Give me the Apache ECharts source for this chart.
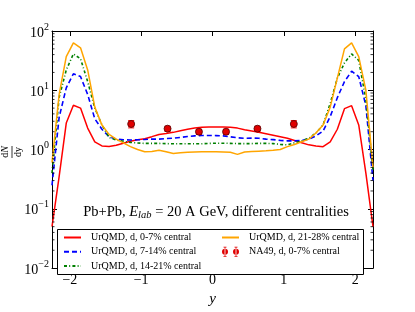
<!DOCTYPE html>
<html><head><meta charset="utf-8">
<script src="https://cdn.jsdelivr.net/npm/echarts@6/dist/echarts.min.js"></script>
<style>html,body{margin:0;padding:0;background:#fff}#c{width:415px;height:312px}</style>
</head><body><div id="c"></div>
<script>
// ---- data ----
const rapidity = [-2.25,-2.15,-2.05,-1.95,-1.85,-1.75,-1.65,-1.55,-1.45,-1.35,-1.25,-1.15,-1.05,-0.95,-0.85,-0.75,-0.65,-0.55,-0.45,-0.35,-0.25,-0.15,-0.05,
  0.05,0.15,0.25,0.35,0.45,0.55,0.65,0.75,0.85,0.95,1.05,1.15,1.25,1.35,1.45,1.55,1.65,1.75,1.85,1.95,2.05,2.15,2.25];
const central0to7 = [0.05,0.35,2.8,5.6,5.0,2.3,1.35,1.15,1.13,1.18,1.28,1.38,1.46,1.52,1.65,1.8,1.86,1.95,2.08,2.2,2.3,2.38,2.4,
  2.4,2.4,2.38,2.3,2.15,2.05,1.95,1.85,1.75,1.65,1.55,1.42,1.3,1.2,1.15,1.12,1.35,2.2,4.9,5.5,2.6,0.4,0.05];
const central7to14 = [0.25,3.5,11,19,17,8.5,3.3,2.2,1.65,1.5,1.46,1.45,1.46,1.48,1.5,1.5,1.53,1.56,1.6,1.66,1.7,1.73,1.73,
  1.72,1.7,1.64,1.58,1.55,1.56,1.55,1.5,1.47,1.43,1.4,1.4,1.42,1.5,1.7,2.05,3.6,7.5,14,21,17,5.5,0.3];
const central14to21 = [0.4,7.6,22,41,34,14,5,2.6,1.6,1.45,1.38,1.32,1.29,1.27,1.27,1.27,1.26,1.25,1.25,1.25,1.25,1.25,1.27,
  1.28,1.28,1.27,1.26,1.26,1.26,1.27,1.27,1.26,1.22,1.2,1.3,1.4,1.55,1.9,2.6,6,16,29,41,32,7,0.45];
const central21to28 = [0.6,8.5,37,63,52,22,5.2,2.6,1.8,1.5,1.3,1.12,1.0,0.92,0.93,0.97,0.92,0.86,0.88,0.9,0.91,0.92,0.92,
  0.92,0.91,0.9,0.83,0.91,0.93,0.94,0.95,0.97,1.0,1.12,1.22,1.35,1.5,1.9,2.6,5.2,16,50,63,37,10,0.5];
const na49Rapidity = [-1.14,-0.63,-0.19,0.19,0.63,1.14];
const na49Value = [2.7,2.25,2.0,2.0,2.25,2.7];
const na49Error = [0.38,0.22,0.2,0.2,0.22,0.38];
const seriesNames = ['UrQMD, d, 0-7% central','UrQMD, d, 7-14% central','UrQMD, d, 14-21% central','UrQMD, d, 21-28% central','NA49, d, 0-7% central'];
const xTickLabels = [-2,-1,0,1,2];
const yTickLabels = [0.01,0.1,1,10,100];

// ---- chart ----
const FONT = 'Liberation Serif';
const xMin = -2.25, xMax = 2.25, yMin = 0.01, yMax = 100;
const minorTicks = [];
for (let e = -2; e < 2; e++) for (let m = 2; m <= 9; m++) minorTicks.push(m * Math.pow(10, e));

const chart = echarts.init(document.getElementById('c'));

function lineSeries(name, values, color, type, width) {
  return {
    name, type: 'line', data: rapidity.map((x, i) => [x, values[i]]),
    symbol: 'none', showSymbol: false, silent: true, z: 3,
    lineStyle: { color, width, type }, itemStyle: { color }
  };
}
const sup = v => { const e = Math.round(Math.log10(v)); return '{b|10}{s|' + (e < 0 ? '\u2212' + (-e) : e) + '}'; };
const xfmt = v => (xTickLabels.indexOf(Math.round(v * 1000) / 1000) < 0 ? '' : (v < 0 ? '\u2212' + (-v) : '' + v));

const tickIn = { show: true, inside: true, length: 5, lineStyle: { color: '#000', width: 1 } };
const axisLine = { show: true, onZero: false, lineStyle: { color: '#000', width: 1 } };

const legendText = { fontFamily: FONT, fontSize: 10, color: '#000', padding: [0, 0, 0, 5] };
const naIcon = 'path://M0,5a3,3 0 1,0 6,0a3,3 0 1,0 -6,0z M2.6,0h0.8v10h-0.8z M1.5,0h3v0.8h-3z M1.5,9.2h3v0.8h-3z M11,5a3,3 0 1,0 6,0a3,3 0 1,0 -6,0z M13.6,0h0.8v10h-0.8z M12.5,0h3v0.8h-3z M12.5,9.2h3v0.8h-3z';

chart.setOption({
  animation: false,
  grid: { left: 52, right: 42, top: 31, bottom: 33, containLabel: false },
  xAxis: [
    { type: 'value', min: xMin, max: xMax, splitNumber: 5, position: 'bottom',
      axisLine, axisTick: tickIn, splitLine: { show: false },
      axisLabel: { formatter: xfmt, fontFamily: FONT, fontSize: 14, color: '#000', margin: 5 },
      name: 'y', nameLocation: 'middle', nameGap: 23,
      nameTextStyle: { fontFamily: FONT, fontSize: 15, fontStyle: 'italic', color: '#000' } },
    { type: 'value', min: xMin, max: xMax, splitNumber: 5, position: 'top',
      axisLine, axisTick: tickIn, splitLine: { show: false }, axisLabel: { show: false } }
  ],
  yAxis: [
    { type: 'log', logBase: 10, min: yMin, max: yMax, position: 'left',
      axisLine, axisTick: tickIn, splitLine: { show: false },
      axisLabel: { formatter: sup, margin: 3, color: '#000',
        rich: { b: { fontFamily: FONT, fontSize: 14, color: '#000', padding: [4, 0, 0, 0] },
                s: { fontFamily: FONT, fontSize: 10, color: '#000', padding: [0, 0, 8, 0] } } } },
    { type: 'log', logBase: 10, min: yMin, max: yMax, position: 'right',
      axisLine, axisTick: tickIn, splitLine: { show: false }, axisLabel: { show: false } }
  ],
  legend: [
    { data: seriesNames.slice(0, 3), orient: 'vertical', left: 63, top: 232.5, padding: 0, z: 12,
      itemWidth: 17, itemHeight: 10, itemGap: 4.3, selectedMode: false,
      itemStyle: { opacity: 0 }, textStyle: legendText },
    { data: [{ name: seriesNames[3], itemStyle: { opacity: 0 } }, { name: seriesNames[4], icon: naIcon }],
      orient: 'vertical', left: 221, top: 232.5, padding: 0, z: 12,
      itemWidth: 17, itemHeight: 10, itemGap: 4.3, selectedMode: false, textStyle: legendText }
  ],
  graphic: [
    { type: 'rect', shape: { x: 57.5, y: 229.5, width: 306, height: 45 }, style: { fill: '#fff', stroke: '#000', lineWidth: 1 }, z: 5, silent: true },
    { type: 'text', x: 216, y: 212, z: 20, silent: true,
      style: { text: '{n|Pb+Pb, }{i|E}{sub|lab}{n| = 20 A GeV, different centralities}', align: 'center', verticalAlign: 'middle',
        rich: { n: { fontFamily: FONT, fontSize: 14.5, fill: '#000' },
                i: { fontFamily: FONT, fontSize: 14.5, fontStyle: 'italic', fill: '#000' },
                sub: { fontFamily: FONT, fontSize: 10.5, fontStyle: 'italic', fill: '#000', padding: [6, 0, 0, 0] } } } },
    { type: 'group', x: 12, y: 152, rotation: Math.PI / 2, silent: true, children: [
      { type: 'text', x: 0, y: -1.5, style: { text: '{r|d}{i|N}', align: 'center', verticalAlign: 'bottom',
          rich: { r: { fontFamily: FONT, fontSize: 10, fill: '#000' }, i: { fontFamily: FONT, fontSize: 10, fontStyle: 'italic', fill: '#000' } } } },
      { type: 'line', shape: { x1: -6, y1: 0, x2: 6, y2: 0 }, style: { stroke: '#000', lineWidth: 0.8 } },
      { type: 'text', x: 0, y: 1, style: { text: 'dy', fontFamily: FONT, fontSize: 10, fill: '#000', align: 'center', verticalAlign: 'top' } }
    ] }
  ],
  series: [
    lineSeries(seriesNames[0], central0to7, '#ff0000', 'solid', 1.5),
    lineSeries(seriesNames[1], central7to14, '#0000ff', [5, 3], 1.6),
    lineSeries(seriesNames[2], central14to21, '#008000', [3, 2.2, 1, 2.2], 1.6),
    lineSeries(seriesNames[3], central21to28, '#ffa500', 'solid', 1.5),
    { name: seriesNames[4], type: 'custom', silent: true, z: 4, itemStyle: { color: '#e00000' },
      data: na49Rapidity.map((x, i) => [x, na49Value[i], na49Error[i]]),
      encode: { x: 0, y: 1 },
      renderItem: (p, api) => {
        const x = api.value(0), v = api.value(1), e = api.value(2);
        const c = api.coord([x, v]), t = api.coord([x, v + e]), b = api.coord([x, v - e]);
        const st = { stroke: '#ff0000', lineWidth: 1 };
        return { type: 'group', children: [
          { type: 'line', shape: { x1: c[0], y1: t[1], x2: c[0], y2: b[1] }, style: st },
          { type: 'line', shape: { x1: c[0] - 3, y1: t[1], x2: c[0] + 3, y2: t[1] }, style: st },
          { type: 'line', shape: { x1: c[0] - 3, y1: b[1], x2: c[0] + 3, y2: b[1] }, style: st },
          { type: 'circle', shape: { cx: c[0], cy: c[1], r: 3.5 }, style: { fill: '#e00000', stroke: '#500000', lineWidth: 0.8 } }
        ] };
      } },
    { type: 'custom', silent: true, z: 6, clip: false,
      data: minorTicks.map(v => [0, v]), encode: { x: 0, y: 1 },
      renderItem: (p, api) => {
        const v = api.value(1);
        const l = api.coord([xMin, v]), r = api.coord([xMax, v]);
        const st = { stroke: '#000', lineWidth: 0.8 };
        return { type: 'group', children: [
          { type: 'line', shape: { x1: l[0], y1: l[1], x2: l[0] + 2.5, y2: l[1] }, style: st },
          { type: 'line', shape: { x1: r[0] - 2.5, y1: r[1], x2: r[0], y2: r[1] }, style: st }
        ] };
      } }
  ]
});
</script></body></html>
